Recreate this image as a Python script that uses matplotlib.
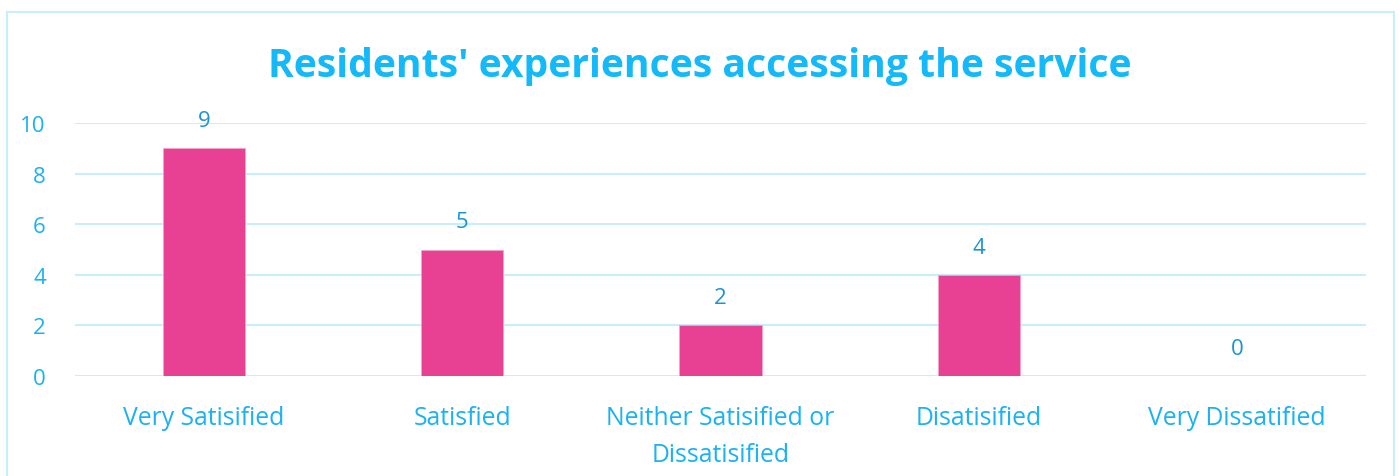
import matplotlib
matplotlib.use("Agg")
import matplotlib.pyplot as plt
from matplotlib.patches import Rectangle

categories = ["Very Satisified", "Satisfied", "Neither Satisified or\nDissatisified", "Disatisified", "Very Dissatified"]
values = [9, 5, 2, 4, 0]
yticks = [0, 2, 4, 6, 8, 10]
title = "Residents' experiences accessing the service"

BAR = "#E84093"
TITLE_C = "#14B9F9"
TICK_C = "#1AB2F2"
VAL_C = "#1A94D2"
GRID_C = "#C8EEFC"

plt.rcParams['font.family'] = ['Open Sans', 'DejaVu Sans']

fig = plt.figure(figsize=(14, 4.77), dpi=100)
ax = fig.add_axes([75/1400, 1-377/477, (1366-75)/1400, (377-124)/477])

x = list(range(len(categories)))
bars = ax.bar(x, values, width=0.318, color=BAR, edgecolor="#F5A3C8", linewidth=0.6, zorder=3)
ax.set_xlim(-0.5, len(categories)-0.5)
ax.set_ylim(0, 10)
ax.set_yticks(yticks)
ax.set_yticklabels([str(t) for t in yticks])
ax.set_xticks(x)
ax.set_xticklabels(categories, linespacing=1.62)
ax.tick_params(axis='both', length=0, colors=TICK_C, labelsize=16)
ax.tick_params(axis='x', pad=21, labelsize=17.8)
ax.tick_params(axis='y', pad=21)
for lab in ax.get_xticklabels() + ax.get_yticklabels():
    lab.set_color(TICK_C)
ax.grid(axis='y', color=GRID_C, linewidth=1.5, zorder=0)
for s in ax.spines.values():
    s.set_visible(False)

for xi, v in zip(x, values):
    ax.annotate(str(v), (xi, v), xytext=(0, 20), textcoords='offset points',
                ha='center', va='center', color=VAL_C, fontsize=16)

fig.text(0.5, 1-77/477, title, ha='center', va='baseline', color=TITLE_C,
         fontsize=28.2, fontweight='bold')

fig.patches.append(Rectangle((7/1400, -0.05), (1394-7)/1400, 1.05-13/477,
                             transform=fig.transFigure, fill=False,
                             edgecolor=GRID_C, linewidth=1.5))

fig.savefig("out.png", dpi=100)
